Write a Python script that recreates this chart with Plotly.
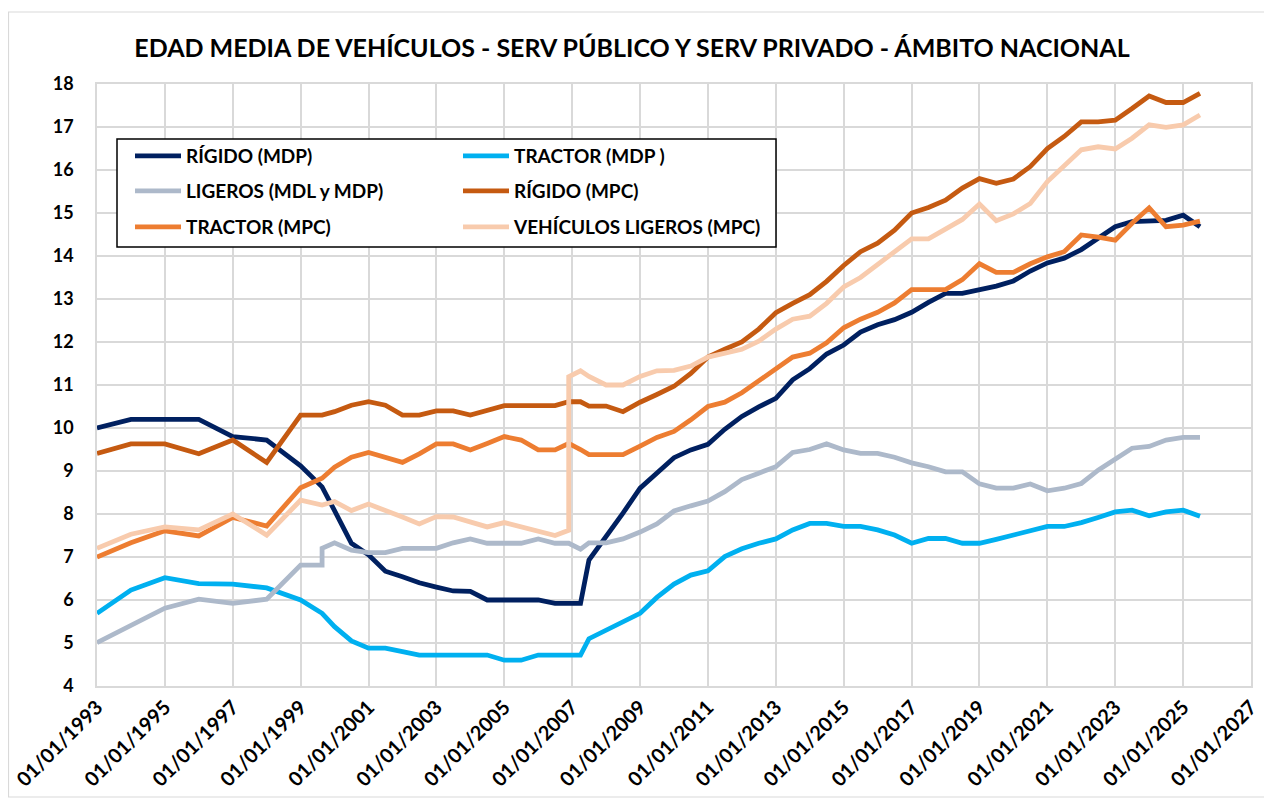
import plotly.graph_objects as go

# ---- data -------------------------------------------------------------
dates = [
    "1993-01-01", "1994-01-01", "1995-01-01", "1996-01-01", "1997-01-01", "1998-01-01", "1999-01-01",
    "1999-08-20", "1999-08-20",
    "2000-01-01", "2000-07-01", "2001-01-01", "2001-07-01", "2002-01-01", "2002-07-01", "2003-01-01",
    "2003-07-01", "2004-01-01", "2004-07-01", "2005-01-01", "2005-07-01", "2006-01-01", "2006-07-01",
    "2006-11-25", "2006-11-25",
    "2007-04-01", "2007-07-01",
    "2008-01-01", "2008-07-01", "2009-01-01", "2009-07-01", "2010-01-01", "2010-07-01",
    "2011-01-01", "2011-07-01", "2012-01-01", "2012-07-01", "2013-01-01", "2013-07-01",
    "2014-01-01", "2014-07-01", "2015-01-01", "2015-07-01", "2016-01-01", "2016-07-01",
    "2017-01-01", "2017-07-01", "2018-01-01", "2018-07-01", "2019-01-01", "2019-07-01",
    "2020-01-01", "2020-07-01", "2021-01-01", "2021-07-01", "2022-01-01", "2022-07-01",
    "2023-01-01", "2023-07-01", "2024-01-01", "2024-07-01", "2025-01-01", "2025-07-01",
]

rigido_mdp = [
    10.0, 10.2, 10.2, 10.2, 9.8, 9.72, 9.12,
    8.63, 8.63,
    8.08, 7.32, 7.05, 6.67, 6.54, 6.4, 6.3, 6.21, 6.2, 6.0, 6.0, 6.0, 6.0, 5.92,
    5.92, 5.92,
    5.92, 6.93,
    7.47, 8.02, 8.6, 8.97, 9.31, 9.49, 9.62, 9.97, 10.27, 10.49, 10.69, 11.12,
    11.38, 11.72, 11.93, 12.23, 12.4, 12.52, 12.69, 12.92, 13.13, 13.13, 13.21, 13.3,
    13.42, 13.65, 13.84, 13.95, 14.15, 14.4, 14.68, 14.8, 14.81, 14.83, 14.95, 14.68,
]

tractor_mdp = [
    5.69, 6.23, 6.52, 6.38, 6.37, 6.28, 6.0,
    5.69, 5.69,
    5.38, 5.05, 4.88, 4.88, 4.8, 4.72, 4.72, 4.72, 4.72, 4.72, 4.6, 4.6, 4.72, 4.72,
    4.72, 4.72,
    4.72, 5.1,
    5.3, 5.48, 5.69, 6.06, 6.37, 6.58, 6.68, 7.01, 7.19, 7.32, 7.42, 7.63,
    7.78, 7.78, 7.71, 7.71, 7.63, 7.51, 7.32, 7.43, 7.43, 7.32, 7.32, 7.41,
    7.51, 7.63, 7.71, 7.71, 7.8, 7.92, 8.05, 8.09, 7.96, 8.05, 8.09, 7.95,
]

ligeros_mdl_mdp = [
    5.01, 5.42, 5.81, 6.02, 5.92, 6.02, 6.81,
    6.81, 7.2,
    7.33, 7.16, 7.1, 7.1, 7.2, 7.2, 7.2, 7.33, 7.42, 7.32, 7.32, 7.32, 7.42, 7.32,
    7.32, 7.32,
    7.18, 7.33,
    7.33, 7.42, 7.58, 7.77, 8.07, 8.19, 8.3, 8.52, 8.8, 8.95, 9.1, 9.43,
    9.5, 9.63, 9.49, 9.41, 9.41, 9.32, 9.19, 9.1, 8.98, 8.98, 8.7, 8.6,
    8.6, 8.7, 8.54, 8.6, 8.71, 9.02, 9.29, 9.53, 9.57, 9.72, 9.78, 9.78,
]

rigido_mpc = [
    9.41, 9.63, 9.63, 9.4, 9.72, 9.2, 10.3,
    10.3, 10.3,
    10.38, 10.53, 10.61, 10.53, 10.3, 10.3, 10.4, 10.4, 10.3, 10.4, 10.52, 10.52, 10.52, 10.52,
    10.61, 10.61,
    10.61, 10.51,
    10.51, 10.38, 10.6, 10.78, 10.97, 11.27, 11.65, 11.83, 12.0, 12.3, 12.68, 12.9,
    13.1, 13.41, 13.78, 14.1, 14.3, 14.6, 15.0, 15.13, 15.3, 15.58, 15.8, 15.69,
    15.79, 16.08, 16.5, 16.78, 17.12, 17.12, 17.16, 17.43, 17.72, 17.57, 17.57, 17.78,
]

tractor_mpc = [
    7.0, 7.33, 7.61, 7.49, 7.92, 7.72, 8.61,
    8.83, 8.83,
    9.09, 9.32, 9.43, 9.32, 9.2, 9.4, 9.63, 9.63, 9.49, 9.64, 9.8, 9.72, 9.49, 9.49,
    9.64, 9.64,
    9.5, 9.38,
    9.38, 9.38, 9.58, 9.78, 9.92, 10.19, 10.5, 10.6, 10.82, 11.1, 11.4, 11.65,
    11.74, 11.98, 12.33, 12.53, 12.69, 12.91, 13.22, 13.22, 13.22, 13.45, 13.82, 13.62,
    13.62, 13.82, 13.98, 14.1, 14.49, 14.44, 14.37, 14.76, 15.12, 14.68, 14.72, 14.81,
]

ligeros_mpc = [
    7.2, 7.53, 7.7, 7.63, 8.0, 7.51, 8.32,
    8.21, 8.21,
    8.29, 8.08, 8.23, 8.09, 7.93, 7.77, 7.94, 7.93, 7.8, 7.7, 7.8, 7.7, 7.61, 7.5,
    7.62, 11.19,
    11.33, 11.2,
    11.0, 11.0, 11.2, 11.33, 11.34, 11.44, 11.65, 11.75, 11.83, 12.02, 12.3, 12.53,
    12.6, 12.9, 13.28, 13.5, 13.8, 14.1, 14.4, 14.4, 14.62, 14.85, 15.21, 14.82,
    14.98, 15.22, 15.73, 16.09, 16.47, 16.54, 16.49, 16.74, 17.05, 16.99, 17.05, 17.28,
]

series_names = [
    "RÍGIDO (MDP)", "TRACTOR (MDP )", "LIGEROS (MDL y MDP)",
    "RÍGIDO (MPC)", "TRACTOR (MPC)", "VEHÍCULOS LIGEROS (MPC)",
]
series_values = [rigido_mdp, tractor_mdp, ligeros_mdl_mdp, rigido_mpc, tractor_mpc, ligeros_mpc]
series_colors = ["#002060", "#00B0F0", "#ADB9CA", "#C55A11", "#ED7D31", "#F8CBAD"]

tick_years = list(range(1993, 2028, 2))
tick_vals = [f"{y}-01-01" for y in tick_years]
tick_text = [f"01/01/{y}" for y in tick_years]

title_text = "EDAD MEDIA DE VEHÍCULOS - SERV PÚBLICO Y SERV PRIVADO - ÁMBITO NACIONAL"

# ---- layout geometry (screen pixels; page body has an 8px margin) ------
OFF = 8
W, H = 1272 - OFF, 801 - OFF
ML, MT = 97 - OFF, 84 - OFF
PW, PH = 1154, 602
MR, MB = W - ML - PW, H - MT - PH


def px_x(px):
    return (px - OFF - ML) / PW


def px_y(py):
    return (H - MB - (py - OFF)) / PH


FONT = "Lato"
legend_names = ["legend", "legend2", "legend3", "legend4", "legend5", "legend6"]
legend_pos = [(130, 156), (458, 156), (130, 191), (458, 191), (130, 227), (458, 227)]

fig = go.Figure()
for name, vals, col, lg in zip(series_names, series_values, series_colors, legend_names):
    fig.add_trace(go.Scatter(
        x=dates, y=vals, mode="lines", name=name,
        line=dict(color=col, width=4.8),
        legend=lg,
    ))

layout_legends = {}
for lg, (lx, ly) in zip(legend_names, legend_pos):
    layout_legends[lg] = dict(
        x=px_x(lx), y=px_y(ly), xanchor="left", yanchor="middle",
        bgcolor="rgba(0,0,0,0)", borderwidth=0, itemwidth=46,
        font=dict(family=FONT, size=19, color="#000000", weight="bold"),
        tracegroupgap=0,
    )

fig.update_layout(
    width=W, height=H,
    margin=dict(l=ML, r=MR, t=MT, b=MB, autoexpand=False),
    paper_bgcolor="white", plot_bgcolor="white",
    showlegend=True,
    title=dict(
        text=title_text, x=(632 - OFF) / W, xanchor="center", y=1 - (48 - OFF) / H, yanchor="middle",
        font=dict(family=FONT, size=25, color="#000000", weight="bold"),
    ),
    xaxis=dict(
        type="date", range=["1993-01-01", "2027-01-01"],
        tickvals=tick_vals, ticktext=tick_text, tickangle=-45,
        tickfont=dict(family=FONT, size=20, color="#000000", weight="bold"),
        showgrid=True, gridcolor="#D9D9D9", gridwidth=1.5,
        showline=True, linecolor="#D9D9D9", linewidth=1.5, mirror=True,
        zeroline=False, ticks="",
    ),
    yaxis=dict(
        range=[4, 18], dtick=1, tick0=4,
        tickfont=dict(family=FONT, size=18, color="#000000", weight="bold"),
        showgrid=True, gridcolor="#D9D9D9", gridwidth=1.5,
        showline=True, linecolor="#D9D9D9", linewidth=1.5, mirror=True,
        zeroline=False, ticks="", ticklabelstandoff=18,
    ),
    shapes=[
        dict(type="rect", xref="paper", yref="paper",
             x0=px_x(117), x1=px_x(776), y0=px_y(247), y1=px_y(139),
             line=dict(color="#000000", width=1.5), fillcolor="white", layer="above"),
        dict(type="rect", xref="paper", yref="paper",
             x0=px_x(OFF + 0.5), x1=px_x(1267), y0=px_y(797), y1=px_y(12),
             line=dict(color="#D9D9D9", width=1.2), fillcolor="rgba(0,0,0,0)", layer="below"),
    ],
    **layout_legends,
)

fig.write_html("out.html")
